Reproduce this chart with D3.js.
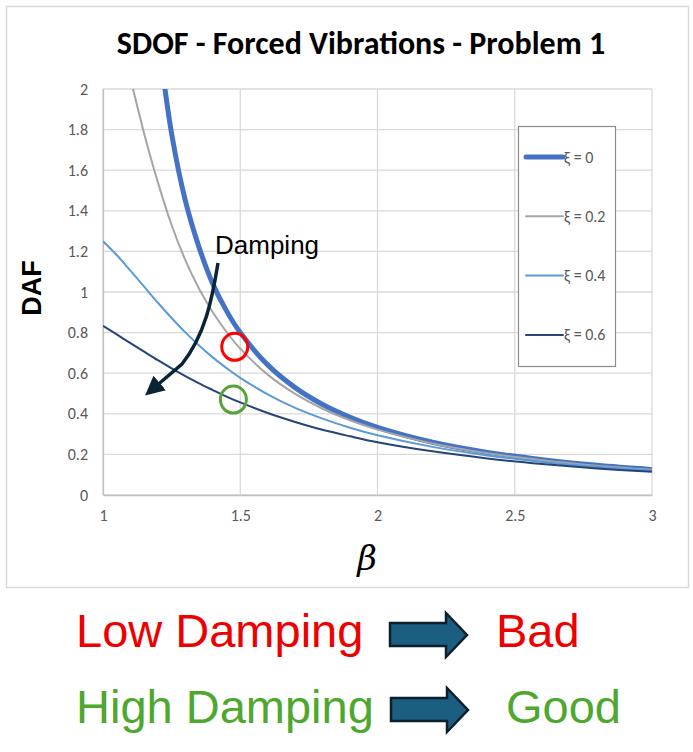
<!DOCTYPE html>
<html>
<head>
<meta charset="utf-8">
<script src="https://cdn.jsdelivr.net/npm/d3@7"></script>
<style>
  body { margin: 0; background: #fff; }
  svg { display: block; }
</style>
</head>
<body>
<svg></svg>
<script>
var width = 693;
var height = 752;

// beta values (frequency ratio) and DAF
var beta = [1.00, 1.05, 1.10, 1.15, 1.20, 1.25, 1.30, 1.35, 1.40, 1.45, 1.50,
            1.60, 1.70, 1.80, 1.90, 2.00, 2.20, 2.40, 2.60, 2.80, 3.00];
var daf0  = [null, null, null, null, 2.27, 1.78, 1.45, 1.22, 1.04, 0.907, 0.80,
             0.641, 0.529, 0.446, 0.383, 0.333, 0.260, 0.210, 0.174, 0.146, 0.125];
var daf02 = [2.50, 2.31, 2.05, 1.78, 1.54, 1.33, 1.157, 1.016, 0.900, 0.803, 0.721,
             0.593, 0.498, 0.425, 0.368, 0.322, 0.254, 0.206, 0.171, 0.144, 0.124];
var daf04 = [1.25, 1.182, 1.105, 1.026, 0.947, 0.872, 0.801, 0.737, 0.678, 0.625, 0.577,
             0.496, 0.429, 0.376, 0.331, 0.294, 0.237, 0.195, 0.163, 0.139, 0.120];
var daf06 = [0.833, 0.791, 0.748, 0.706, 0.664, 0.624, 0.586, 0.550, 0.517, 0.485, 0.456,
             0.404, 0.360, 0.321, 0.289, 0.260, 0.215, 0.180, 0.153, 0.131, 0.114];

var seriesNames = ["ξ = 0", "ξ = 0.2", "ξ = 0.4", "ξ = 0.6"];
var seriesValues = [daf0, daf02, daf04, daf06];
var seriesColors = ["#4472c4", "#a5a5a5", "#5b9bd5", "#264478"];
var seriesWidths = [5, 2, 2, 2];

var xTicks = [1, 1.5, 2, 2.5, 3];
var yTicks = [0, 0.2, 0.4, 0.6, 0.8, 1, 1.2, 1.4, 1.6, 1.8, 2];

// highlighted points (beta, DAF)
var redMark = [1.48, 0.73];
var greenMark = [1.475, 0.47];

var svg = d3.select("svg")
  .attr("width", width)
  .attr("height", height);

// chart frame
svg.append("rect")
  .attr("x", 6.5).attr("y", 6.5)
  .attr("width", 682).attr("height", 581)
  .attr("fill", "#fff")
  .attr("stroke", "#d9d9d9")
  .attr("stroke-width", 1.5);

var plot = { left: 103, right: 652, top: 89, bottom: 495 };

var x = d3.scaleLinear().domain([1, 3]).range([plot.left, plot.right]);
var y = d3.scaleLinear().domain([0, 2]).range([plot.bottom, plot.top]);

var labelFont = "Carlito, 'Open Sans', sans-serif";

// title
svg.append("text")
  .attr("x", 361).attr("y", 54)
  .attr("text-anchor", "middle")
  .attr("font-family", labelFont)
  .attr("font-weight", "bold")
  .attr("font-size", 32)
  .attr("fill", "#000")
  .text("SDOF - Forced Vibrations - Problem 1");

// grid
var grid = svg.append("g");
grid.selectAll(".hg").data(yTicks).enter().append("line")
  .attr("x1", plot.left).attr("x2", plot.right)
  .attr("y1", function (d) { return y(d); })
  .attr("y2", function (d) { return y(d); })
  .attr("stroke", "#d9d9d9").attr("stroke-width", 1.3);
grid.selectAll(".vg").data(xTicks).enter().append("line")
  .attr("x1", function (d) { return x(d); })
  .attr("x2", function (d) { return x(d); })
  .attr("y1", plot.top).attr("y2", plot.bottom)
  .attr("stroke", "#d9d9d9").attr("stroke-width", 1.3);

// axes
var xAxis = svg.append("g")
  .attr("transform", "translate(0," + plot.bottom + ")")
  .call(d3.axisBottom(x).tickValues(xTicks).tickSize(0).tickPadding(15)
    .tickFormat(function (d) { return d; }));
xAxis.select(".domain").attr("stroke", "#bfbfbf").attr("stroke-width", 1.3);

var yAxis = svg.append("g")
  .attr("transform", "translate(" + plot.left + ",0)")
  .call(d3.axisLeft(y).tickValues(yTicks).tickSize(0).tickPadding(15)
    .tickFormat(function (d) { return d; }));
yAxis.select(".domain").attr("stroke", "#bfbfbf").attr("stroke-width", 1.3);

svg.selectAll(".tick text")
  .attr("font-family", labelFont)
  .attr("font-size", 16)
  .attr("fill", "#595959");

// axis titles
svg.append("text")
  .attr("transform", "translate(41,288) rotate(-90)")
  .attr("text-anchor", "middle")
  .attr("font-family", "'Liberation Sans', Arial, sans-serif")
  .attr("font-weight", "bold")
  .attr("font-size", 27)
  .attr("fill", "#000")
  .text("DAF");

svg.append("text")
  .attr("x", 367).attr("y", 570)
  .attr("text-anchor", "middle")
  .attr("font-family", "'DejaVu Serif', serif")
  .attr("font-style", "italic")
  .attr("font-size", 34)
  .attr("fill", "#000")
  .text("β");

// curves
svg.append("clipPath").attr("id", "plotClip")
  .append("rect")
  .attr("x", plot.left).attr("y", plot.top)
  .attr("width", plot.right - plot.left + 3)
  .attr("height", plot.bottom - plot.top);

var line = d3.line()
  .defined(function (d) { return d[1] != null; })
  .x(function (d) { return x(d[0]); })
  .y(function (d) { return y(d[1]); })
  .curve(d3.curveCatmullRom.alpha(0.5));

var curves = svg.append("g").attr("clip-path", "url(#plotClip)");
seriesValues.forEach(function (vals, i) {
  var pts = beta.map(function (b, j) { return [b, vals[j]]; });
  curves.append("path")
    .attr("d", line(pts))
    .attr("fill", "none")
    .attr("stroke", seriesColors[i])
    .attr("stroke-width", seriesWidths[i])
    .attr("stroke-linejoin", "round");
});

// legend
var legend = svg.append("g").attr("transform", "translate(518,126)");
legend.append("rect")
  .attr("x", 0.5).attr("y", 0.5)
  .attr("width", 97).attr("height", 240)
  .attr("fill", "#fff")
  .attr("stroke", "#8c8c8c")
  .attr("stroke-width", 1.2);
seriesNames.forEach(function (name, i) {
  var ly = 31 + i * 59.3;
  legend.append("line")
    .attr("x1", 8).attr("x2", 45)
    .attr("y1", ly).attr("y2", ly)
    .attr("stroke", seriesColors[i])
    .attr("stroke-width", seriesWidths[i])
    .attr("stroke-linecap", "round");
  legend.append("text")
    .attr("x", 46).attr("y", ly + 5.5)
    .attr("font-family", labelFont)
    .attr("font-size", 16)
    .attr("fill", "#595959")
    .text(name);
});

// damping annotation
svg.append("text")
  .attr("x", 215).attr("y", 254)
  .attr("font-family", "'Liberation Sans', Arial, sans-serif")
  .attr("font-size", 26)
  .attr("fill", "#000")
  .text("Damping");

svg.append("defs").append("marker")
  .attr("id", "head")
  .attr("viewBox", "0 0 10 10")
  .attr("refX", 8).attr("refY", 5)
  .attr("markerWidth", 5.5).attr("markerHeight", 5.5)
  .attr("markerUnits", "strokeWidth")
  .attr("orient", "auto")
  .append("path")
  .attr("d", "M0,0 L10,5 L0,10 Z")
  .attr("fill", "#0b2433");

svg.append("path")
  .attr("d", "M218,263 C212,300 205,335 182,364 L148,393")
  .attr("fill", "none")
  .attr("stroke", "#0b2433")
  .attr("stroke-width", 3.5)
  .attr("marker-end", "url(#head)");

svg.append("ellipse")
  .attr("cx", x(redMark[0])).attr("cy", y(redMark[1]))
  .attr("rx", 13).attr("ry", 13.5)
  .attr("fill", "none").attr("stroke", "#ff0000").attr("stroke-width", 3);
svg.append("ellipse")
  .attr("cx", x(greenMark[0])).attr("cy", y(greenMark[1]))
  .attr("rx", 13).attr("ry", 13.5)
  .attr("fill", "none").attr("stroke", "#58a336").attr("stroke-width", 3);

// bottom captions
function blockArrow(x0, y0) {
  // shaft 56 wide, head 22 wide, total height 44
  var p = "M" + x0 + "," + (y0 + 10) +
    " L" + (x0 + 56) + "," + (y0 + 10) +
    " L" + (x0 + 56) + "," + y0 +
    " L" + (x0 + 77) + "," + (y0 + 22) +
    " L" + (x0 + 56) + "," + (y0 + 44) +
    " L" + (x0 + 56) + "," + (y0 + 33) +
    " L" + x0 + "," + (y0 + 33) + " Z";
  svg.append("path")
    .attr("d", p)
    .attr("fill", "#1b5e80")
    .attr("stroke", "#0c1f2c")
    .attr("stroke-width", 2.5)
    .attr("stroke-linejoin", "miter");
}

var captionFont = "'Liberation Sans', Arial, sans-serif";
svg.append("text").attr("x", 76).attr("y", 647)
  .attr("font-family", captionFont).attr("font-size", 47)
  .attr("fill", "#ee0000").text("Low Damping");
blockArrow(390, 613);
svg.append("text").attr("x", 496).attr("y", 647)
  .attr("font-family", captionFont).attr("font-size", 47)
  .attr("fill", "#ee0000").text("Bad");

svg.append("text").attr("x", 76).attr("y", 723)
  .attr("font-family", captionFont).attr("font-size", 47)
  .attr("fill", "#4ea72e").text("High Damping");
blockArrow(391, 688);
svg.append("text").attr("x", 506).attr("y", 723)
  .attr("font-family", captionFont).attr("font-size", 47)
  .attr("fill", "#4ea72e").text("Good");
</script>
</body>
</html>
